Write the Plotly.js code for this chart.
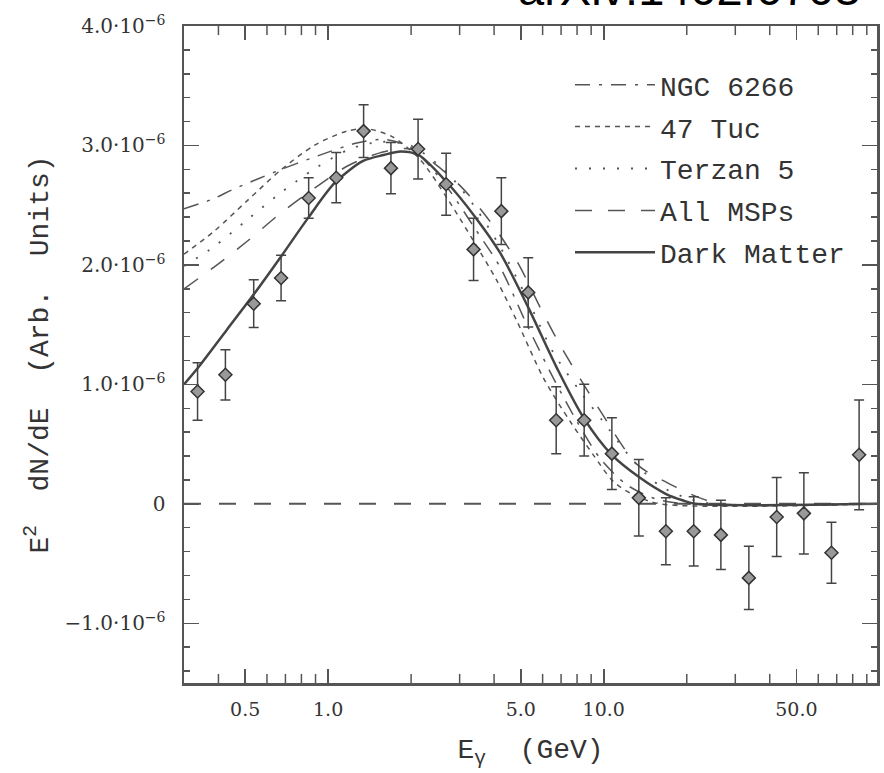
<!DOCTYPE html>
<html>
<head>
<meta charset="utf-8">
<script src="https://cdn.plot.ly/plotly-3.0.1.min.js"></script>
<style>html,body{margin:0;padding:0;background:#fff;}</style>
</head>
<body>
<div id="chart" style="width:884px;height:773px;"></div>
<script>
// ---- Data (y in units of 1e-6) ----
const pointEnergy = [0.336, 0.424, 0.537, 0.675, 0.85, 1.07, 1.345, 1.69, 2.12, 2.68, 3.37, 4.25, 5.32, 6.72, 8.49, 10.7, 13.4, 16.8, 21.2, 26.6, 33.6, 42.4, 53.2, 67.0, 84.4];
const pointFlux = [0.94, 1.08, 1.675, 1.89, 2.56, 2.73, 3.12, 2.81, 2.97, 2.675, 2.13, 2.45, 1.77, 0.70, 0.70, 0.42, 0.05, -0.23, -0.23, -0.26, -0.62, -0.11, -0.08, -0.41, 0.41];
const pointError = [0.24, 0.21, 0.20, 0.19, 0.17, 0.21, 0.22, 0.215, 0.25, 0.26, 0.26, 0.28, 0.29, 0.28, 0.30, 0.30, 0.32, 0.28, 0.29, 0.29, 0.265, 0.33, 0.34, 0.255, 0.46];

const ngcEnergy = [0.30, 0.38, 0.45, 0.66, 0.91, 1.27, 1.60, 2.00, 2.68, 3.42, 4.21, 5.26, 6.57, 7.99, 9.70, 12.1, 15.5, 20.0, 98];
const ngcFlux   = [2.47, 2.55, 2.63, 2.79, 2.91, 3.02, 3.05, 2.98, 2.66, 2.30, 1.98, 1.50, 1.05, 0.69, 0.38, 0.16, 0.04, 0.0, 0.0];

const tucEnergy = [0.30, 0.385, 0.51, 0.67, 0.89, 1.17, 1.38, 1.72, 2.16, 2.70, 3.37, 4.09, 4.84, 6.05, 7.55, 9.16, 10.8, 12.7, 16.0, 98];
const tucFlux   = [2.09, 2.28, 2.54, 2.79, 3.00, 3.12, 3.14, 3.07, 2.88, 2.56, 2.20, 1.87, 1.53, 1.05, 0.69, 0.41, 0.19, 0.08, 0.0, 0.0];

const terEnergy = [0.30, 0.384, 0.51, 0.67, 0.90, 1.20, 1.55, 1.99, 2.68, 3.42, 4.21, 5.27, 6.55, 8.21, 9.94, 12.8, 16.0, 20.5, 25.0, 98];
const terFlux   = [1.99, 2.15, 2.38, 2.60, 2.81, 2.97, 3.03, 3.00, 2.78, 2.48, 2.15, 1.72, 1.27, 0.94, 0.69, 0.36, 0.15, 0.04, 0.0, 0.0];

const mspEnergy = [0.30, 0.39, 0.51, 0.67, 0.89, 1.18, 1.55, 1.99, 2.93, 3.82, 4.84, 6.04, 7.14, 9.70, 13.2, 17.9, 22.3, 26.4, 98];
const mspFlux   = [1.80, 1.99, 2.20, 2.43, 2.64, 2.83, 2.94, 2.97, 2.69, 2.38, 2.03, 1.59, 1.28, 0.78, 0.33, 0.15, 0.05, 0.0, 0.0];

const dmEnergy = [0.30, 0.34, 0.43, 0.54, 0.67, 0.85, 1.06, 1.34, 1.59, 1.83, 2.13, 2.70, 3.42, 4.21, 5.33, 6.75, 8.45, 10.7, 13.5, 16.9, 19.3, 21.5, 98];
const dmFlux   = [1.00, 1.15, 1.46, 1.76, 2.06, 2.40, 2.69, 2.87, 2.92, 2.95, 2.92, 2.69, 2.40, 2.10, 1.64, 1.14, 0.72, 0.41, 0.22, 0.08, 0.03, 0.0, 0.0];

const zeroEnergy = [0.3, 98];
const zeroFlux = [0, 0];

const seriesNames = ['NGC 6266', '47 Tuc', 'Terzan 5', 'All MSPs', 'Dark Matter'];

const xTickValues = [0.5, 1, 5, 10, 50];
const xTickLabels = ['0.5', '1.0', '5.0', '10.0', '50.0'];
const xMinorTickValues = [0.4, 0.6, 0.7, 0.8, 0.9, 2, 3, 4, 6, 7, 8, 9, 20, 30, 40, 60, 70, 80, 90];
const yTickValues = [-1, 0, 1, 2, 3, 4];
const yTickLabels = ['\u22121.0\u00b710<sup>\u22126</sup>', '0', '1.0\u00b710<sup>\u22126</sup>', '2.0\u00b710<sup>\u22126</sup>', '3.0\u00b710<sup>\u22126</sup>', '4.0\u00b710<sup>\u22126</sup>'];

// ---- Styling ----
const lineGray = '#555';
const monoFont = 'Liberation Mono, Courier New, monospace';
const serifFont = 'DejaVu Serif, serif';
const xRange = [Math.log10(0.3), Math.log10(98)];
const yRange = [-1.5, 4.0];

function curve(x, y, name, dash, width, color) {
  return {
    x: x, y: y, name: name, type: 'scatter', mode: 'lines',
    line: {color: color, width: width, dash: dash, shape: 'spline', smoothing: 0.8},
    legendgroup: name, hoverinfo: 'skip'
  };
}

// minor ticks on the log axis drawn as clipped tick-shaped markers at the frame edges
function minorTickRow(edgeValue) {
  return {
    x: xMinorTickValues, y: xMinorTickValues.map(function () { return edgeValue; }),
    type: 'scatter', mode: 'markers', showlegend: false, hoverinfo: 'skip', cliponaxis: true,
    marker: {symbol: 'line-ns-open', size: 13, color: lineGray, line: {color: lineGray, width: 1.5}}
  };
}

const traces = [
  {x: zeroEnergy, y: zeroFlux, type: 'scatter', mode: 'lines', showlegend: false,
   line: {color: lineGray, width: 2, dash: '17px,18px'}, hoverinfo: 'skip'},
  curve(ngcEnergy, ngcFlux, seriesNames[0], '15px,9px,3px,9px', 1.5, lineGray),
  curve(tucEnergy, tucFlux, seriesNames[1], '5px,5px', 1.5, lineGray),
  curve(terEnergy, terFlux, seriesNames[2], '2px,12px', 1.8, lineGray),
  curve(mspEnergy, mspFlux, seriesNames[3], '17px,16px', 1.5, lineGray),
  curve(dmEnergy, dmFlux, seriesNames[4], 'solid', 2.5, '#444'),
  {x: pointEnergy, y: pointFlux, type: 'scatter', mode: 'markers', showlegend: false,
   marker: {symbol: 'diamond', size: 10, color: '#999', line: {color: '#333', width: 1.5}},
   error_y: {type: 'data', array: pointError, visible: true, color: '#444', thickness: 1.5, width: 5}},
  minorTickRow(yRange[0]),
  minorTickRow(yRange[1])
];

const layout = {
  width: 884, height: 773,
  margin: {l: 184, r: 7, t: 26, b: 90},
  paper_bgcolor: '#fff', plot_bgcolor: '#fff',
  showlegend: true,
  xaxis: {
    type: 'log', range: xRange,
    tickmode: 'array', tickvals: xTickValues, ticktext: xTickLabels,
    ticks: 'inside', ticklen: 14, tickwidth: 1.5, tickcolor: lineGray,
    showline: true, linecolor: lineGray, linewidth: 2.5, mirror: 'allticks',
    showgrid: false, zeroline: false,
    tickfont: {family: serifFont, size: 19, color: '#333'},
    ticklabelstandoff: 8,
    title: {text: 'E<sub>\u03b3</sub>\u00a0\u00a0(GeV)', font: {family: monoFont, size: 28, color: '#333'}, standoff: 19}
  },
  yaxis: {
    range: yRange,
    tickmode: 'array', tickvals: yTickValues, ticktext: yTickLabels,
    ticks: 'inside', ticklen: 15, tickwidth: 1.5, tickcolor: lineGray,
    minor: {tickmode: 'linear', tick0: 0, dtick: 0.2, ticks: 'inside', ticklen: 6, tickwidth: 1.5, tickcolor: lineGray},
    showline: true, linecolor: lineGray, linewidth: 2.5, mirror: 'allticks',
    showgrid: false, zeroline: false,
    tickfont: {family: serifFont, size: 20, color: '#333'},
    ticklabelstandoff: 12,
    title: {text: 'E<sup>2</sup>\u00a0\u00a0dN/dE\u00a0\u00a0(Arb.\u00a0\u00a0Units)', font: {family: monoFont, size: 28, color: '#333'}, standoff: 8}
  },
  legend: {
    x: (570 - 184) / 693, y: 1 - (60 - 26) / 657, xanchor: 'left', yanchor: 'top',
    bgcolor: 'rgba(0,0,0,0)', borderwidth: 0,
    font: {family: monoFont, size: 28, color: '#333'},
    itemwidth: 80, tracegroupgap: 2.5
  },
  annotations: [{
    text: 'arXiv:1402.6703', xref: 'paper', yref: 'paper',
    x: (516 - 184) / 693, y: 1 + (26 - 17) / 657, xanchor: 'left', yanchor: 'bottom',
    showarrow: false, font: {family: 'Liberation Sans, Arial, sans-serif', size: 47, color: '#000'}
  }]
};

Plotly.newPlot('chart', traces, layout, {displayModeBar: false, staticPlot: true});
</script>
</body>
</html>
